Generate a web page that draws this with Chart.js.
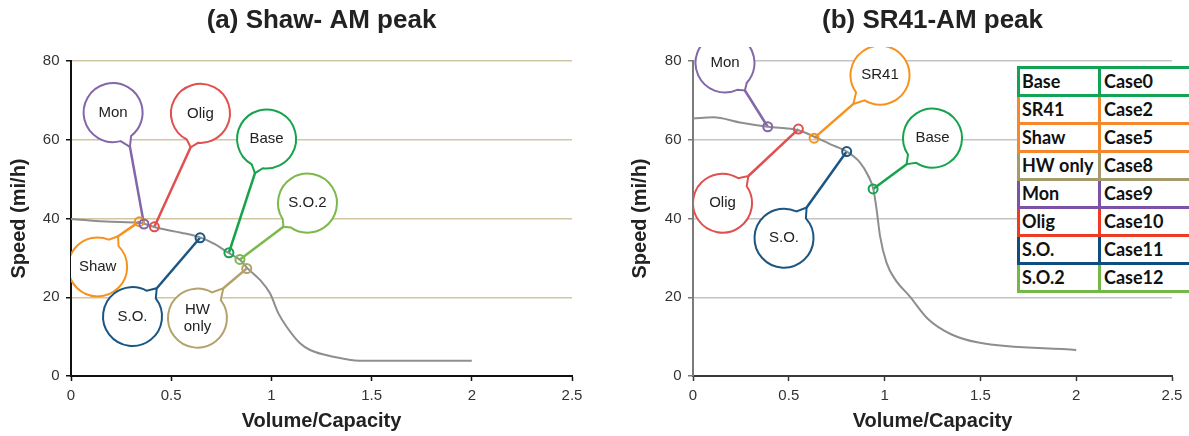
<!DOCTYPE html>
<html lang="en">
<head>
  <meta charset="UTF-8">
  <title>Speed vs Volume/Capacity - AM peak</title>
  <script src="https://cdn.jsdelivr.net/npm/chart.js@4"></script>
  <style>
    body { margin: 0; background: #fff; width: 1189px; height: 436px; overflow: hidden; position: relative; }
    #chartA { position: absolute; left: 0; top: 0; }
    #chartB { position: absolute; left: 600px; top: 0; }
    #caseTable { position: absolute; left: 1017px; top: 66px; width: 175px; height: 232px;
      font-family: Lato, 'Noto Sans', sans-serif; font-weight: bold; font-size: 18px; color: #111; }
    .row { position: absolute; left: 0; width: 175px; height: 31px; box-sizing: border-box;
      border: 3px solid; background: #fff; }
    .row span { position: absolute; top: 0; line-height: 25px; white-space: nowrap; }
    .row .name { left: 2px; }
    .row .case { left: 84px; }
    .row .sep { position: absolute; left: 78px; top: -3px; bottom: -3px; width: 3px; }
  </style>
</head>
<body>
<canvas id="chartA" width="600" height="436"></canvas>
<canvas id="chartB" width="589" height="436"></canvas>
<div id="caseTable"></div>
<script>
  const vcTicks = [0, 0.5, 1, 1.5, 2, 2.5];
  const speedTicks = [0, 20, 40, 60, 80];

  // (a) Shaw - AM peak : speed-flow curve
  const shawCurveVC = [0, 0.2, 0.34, 0.44, 0.55, 0.644, 0.72, 0.785, 0.843, 0.88, 0.943, 0.993, 1.035, 1.076, 1.143, 1.193, 1.309, 1.44, 1.5, 2.0];
  const shawCurveSpeed = [39.9, 39.2, 38.9, 37.5, 36.4, 35.2, 33.4, 31.3, 29.5, 27.4, 24.4, 21, 15.9, 12.5, 8.3, 6.6, 4.9, 3.9, 3.9, 3.9];
  // case points and their callouts
  const shawCases = ['Shaw', 'Mon', 'Olig', 'S.O.', 'Base', 'S.O.2', 'HW only'];
  const shawCaseVC = [0.341, 0.364, 0.416, 0.644, 0.788, 0.843, 0.877];
  const shawCaseSpeed = [39.2, 38.6, 37.9, 35.1, 31.3, 29.6, 27.3];
  const shawCalloutVC = [0.133, 0.21, 0.646, 0.307, 0.976, 1.18, 0.631];
  const shawCalloutSpeed = [27.7, 66.9, 66.7, 15.1, 60.2, 43.9, 14.7];
  const shawTailVC = [0.235, 0.294, 0.597, 0.428, 0.918, 1.06, 0.76];
  const shawTailSpeed = [35.5, 58.2, 58.1, 22.3, 51.5, 37.9, 22.3];

  // (b) SR41 - AM peak
  const sr41CurveVC = [0, 0.106, 0.245, 0.39, 0.55, 0.632, 0.715, 0.802, 0.872, 0.915, 0.941, 0.958, 0.976, 1.01, 1.054, 1.13, 1.228, 1.347, 1.49, 2.0];
  const sr41CurveSpeed = [65.4, 65.7, 64.4, 63.3, 62.4, 60.8, 58.9, 57.0, 54.2, 50.8, 47.5, 42.4, 35.6, 28.8, 24.6, 20.3, 14.4, 10.6, 8.5, 6.6];
  const sr41Cases = ['Mon', 'Olig', 'SR41', 'S.O.', 'Base'];
  const sr41CaseVC = [0.39, 0.55, 0.632, 0.802, 0.94];
  const sr41CaseSpeed = [63.3, 62.7, 60.4, 57.0, 47.5];
  const sr41CalloutVC = [0.167, 0.154, 0.976, 0.475, 1.25];
  const sr41CalloutSpeed = [79.5, 43.9, 76.4, 35.0, 60.4];
  const sr41TailVC = [0.271, 0.289, 0.837, 0.593, 1.115];
  const sr41TailSpeed = [72.5, 50.8, 69.1, 42.8, 53.8];

  // case table
  const tableNames = ['Base', 'SR41', 'Shaw', 'HW only', 'Mon', 'Olig', 'S.O.', 'S.O.2'];
  const tableCases = ['Case0', 'Case2', 'Case5', 'Case8', 'Case9', 'Case10', 'Case11', 'Case12'];

  const caseColors = {
    'Base': '#16a34c', 'SR41': '#f7921e', 'Shaw': '#f7921e', 'HW only': '#b3a26b',
    'Mon': '#8466aa', 'Olig': '#e0504f', 'S.O.': '#1b5683', 'S.O.2': '#7cb94b'
  };
  const tableColors = {
    'Base': '#13a355', 'SR41': '#f5872c', 'Shaw': '#f5872c', 'HW only': '#a59a6a',
    'Mon': '#7c52a6', 'Olig': '#ee3b23', 'S.O.': '#0f4d7e', 'S.O.2': '#74b84a'
  };

  const FONT = "'Liberation Sans', Arial, sans-serif";

  // callout balloons with a pointer and a leader line to the case point
  const calloutPlugin = {
    id: 'callouts',
    beforeDatasetsDraw(chart, args, opts) {
      const { ctx, chartArea, scales: { x, y } } = chart;
      const R = 29.5, D = 0.2;
      ctx.save();
      ctx.beginPath();
      ctx.rect(chartArea.left, chartArea.top - 14, chartArea.right - chartArea.left, chartArea.bottom - chartArea.top + 14);
      ctx.clip();
      opts.labels.forEach((label, i) => {
        const color = caseColors[label];
        const cx = x.getPixelForValue(opts.cx[i]), cy = y.getPixelForValue(opts.cy[i]);
        const tx = x.getPixelForValue(opts.tx[i]), ty = y.getPixelForValue(opts.ty[i]);
        const mx = x.getPixelForValue(opts.mx[i]), my = y.getPixelForValue(opts.my[i]);
        ctx.strokeStyle = color;
        ctx.lineWidth = 2.5;
        ctx.beginPath();
        ctx.moveTo(tx, ty);
        ctx.lineTo(mx, my);
        ctx.stroke();

        const a = Math.atan2(ty - cy, tx - cx);
        ctx.beginPath();
        ctx.arc(cx, cy, R, a + D, a - D + 2 * Math.PI);
        ctx.lineTo(tx, ty);
        ctx.closePath();
        ctx.fillStyle = '#fff';
        ctx.fill();
        ctx.lineWidth = 2;
        ctx.stroke();

        ctx.fillStyle = '#222';
        ctx.font = '15px ' + FONT;
        ctx.textAlign = 'center';
        ctx.textBaseline = 'middle';
        const lines = label.split(' ');
        lines.forEach((t, k) => {
          ctx.fillText(t, cx, cy + (k - (lines.length - 1) / 2) * 17);
        });
      });
      ctx.restore();
    }
  };

  function makeChart(id, opt) {
    const curve = opt.curveVC.map((v, i) => ({ x: v, y: opt.curveSpeed[i] }));
    const points = opt.caseVC.map((v, i) => ({ x: v, y: opt.caseSpeed[i] }));
    return new Chart(document.getElementById(id), {
      type: 'line',
      data: {
        datasets: [{
          type: 'scatter',
          data: points,
          pointRadius: 4.5,
          pointBorderWidth: 2,
          pointBorderColor: opt.cases.map(c => caseColors[c]),
          pointBackgroundColor: 'rgba(255,255,255,0)',
          showLine: false
        }, {
          data: curve,
          borderColor: '#8e8e8e',
          borderWidth: 2,
          pointRadius: 0,
          fill: false,
          cubicInterpolationMode: 'monotone'
        }]
      },
      options: {
        responsive: false,
        animation: false,
        events: [],
        layout: { padding: { left: 0, right: opt.rightPad, top: 0, bottom: 0 } },
        plugins: {
          legend: { display: false },
          tooltip: { enabled: false },
          title: {
            display: true, text: opt.title, fullSize: false, color: '#222',
            font: { family: FONT, size: 26, weight: 'bold' },
            padding: { top: 5, bottom: 24.8 }
          },
          callouts: {
            labels: opt.cases, cx: opt.calloutVC, cy: opt.calloutSpeed,
            tx: opt.tailVC, ty: opt.tailSpeed, mx: opt.caseVC, my: opt.caseSpeed
          }
        },
        scales: {
          x: {
            type: 'linear', min: 0, max: 2.5,
            afterBuildTicks: s => { s.ticks = vcTicks.map(v => ({ value: v })); },
            afterFit: s => { s.height = 60; },
            ticks: { color: '#333', padding: 6, maxRotation: 0, font: { family: FONT, size: 15 }, callback: v => String(v) },
            grid: { drawOnChartArea: false, tickLength: 5, tickColor: opt.xAxisColor, tickWidth: 1.5 },
            border: { color: opt.xAxisColor, width: 2 },
            title: {
              display: true, text: 'Volume/Capacity', color: '#222',
              font: { family: FONT, size: 20, weight: 'bold' },
              padding: { top: 0, bottom: 2.5 }
            }
          },
          y: {
            type: 'linear', min: 0, max: 80,
            afterBuildTicks: s => { s.ticks = speedTicks.map(v => ({ value: v })); },
            afterFit: s => { s.width = opt.yWidth; },
            ticks: { color: '#333', padding: 6.5, font: { family: FONT, size: 15 }, callback: v => String(v) },
            grid: {
              tickLength: 5, tickWidth: 1.5, tickColor: opt.yAxisColor, lineWidth: 1.5,
              color: c => (c.tick && c.tick.value === 0) ? 'rgba(0,0,0,0)' : opt.gridColor
            },
            border: { color: opt.yAxisColor, width: 2 },
            title: {
              display: true, text: 'Speed (mi/h)', color: '#222',
              font: { family: FONT, size: 20, weight: 'bold' },
              padding: { top: opt.yTitlePad, bottom: 0 }
            }
          }
        }
      },
      plugins: [calloutPlugin]
    });
  }

  makeChart('chartA', {
    title: '(a) Shaw- AM peak',
    curveVC: shawCurveVC, curveSpeed: shawCurveSpeed,
    cases: shawCases, caseVC: shawCaseVC, caseSpeed: shawCaseSpeed,
    calloutVC: shawCalloutVC, calloutSpeed: shawCalloutSpeed,
    tailVC: shawTailVC, tailSpeed: shawTailSpeed,
    rightPad: 28, yWidth: 71, yTitlePad: 7,
    gridColor: '#d2c5a2', xAxisColor: '#111', yAxisColor: '#111'
  });

  makeChart('chartB', {
    title: '(b) SR41-AM peak',
    curveVC: sr41CurveVC, curveSpeed: sr41CurveSpeed,
    cases: sr41Cases, caseVC: sr41CaseVC, caseSpeed: sr41CaseSpeed,
    calloutVC: sr41CalloutVC, calloutSpeed: sr41CalloutSpeed,
    tailVC: sr41TailVC, tailSpeed: sr41TailSpeed,
    rightPad: 17, yWidth: 93, yTitlePad: 28,
    gridColor: '#c4c4c4', xAxisColor: '#3a3a3a', yAxisColor: '#7a7a7a'
  });

  // case legend table, upper rows drawn above lower ones
  const table = document.getElementById('caseTable');
  tableNames.forEach((name, i) => {
    const row = document.createElement('div');
    row.className = 'row';
    row.style.top = (i * 28) + 'px';
    row.style.zIndex = 20 - i;
    row.style.borderColor = tableColors[name];
    row.innerHTML = `<span class="name">${name}</span><div class="sep" style="background:${tableColors[name]}"></div><span class="case">${tableCases[i]}</span>`;
    table.appendChild(row);
  });
</script>
</body>
</html>
